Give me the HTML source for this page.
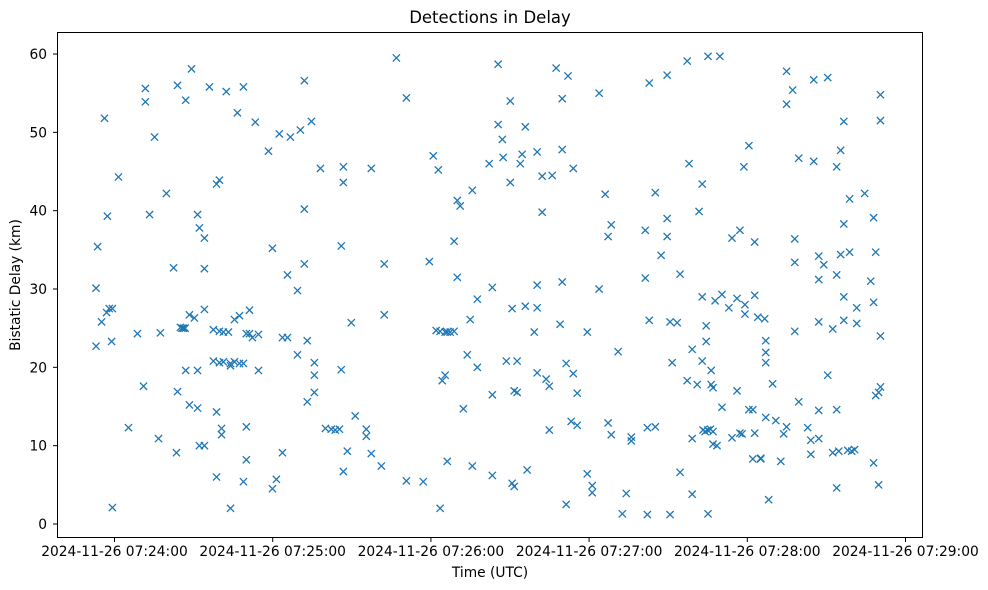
<!DOCTYPE html>
<html><head><meta charset="utf-8"><style>
body{margin:0;background:#fff;}
svg{display:block;font-family:"DejaVu Sans","Liberation Sans",sans-serif;}
</style></head><body>
<svg id="chart" width="988" height="590" viewBox="0 0 988 590" xmlns="http://www.w3.org/2000/svg">
<rect width="988" height="590" fill="#fff"/>
<text x="490" y="23" font-size="16.5" text-anchor="middle" fill="#000">Detections in Delay</text>
<g id="marks"></g>
<g id="axes"></g>
<rect x="57.5" y="32.5" width="865" height="505" fill="none" stroke="#000" stroke-width="1"/>
<text x="490" y="577" font-size="13.8" text-anchor="middle">Time (UTC)</text>
<text x="20" y="285" font-size="13.8" text-anchor="middle" transform="rotate(-90 20 285)">Bistatic Delay (km)</text>
</svg>
<script>
// seconds after 2024-11-26 07:24:00 UTC
const times = [-7,-7,-6.4,-4.9,-3.8,-3,-2.7,-2,-1.1,-0.8,-0.8,1.5,5.3,8.7,11,11.7,11.7,13.3,15.2,16.7,17.4,19.7,22.4,23.5,23.9,23.9,25,25.6,26.2,26.8,27,27,28.4,28.4,29.2,30.3,31.5,31.5,31.5,32.2,32.2,34.1,34.1,34.1,34.1,36,37.5,37.5,38.7,38.7,38.7,39.8,39.8,39.8,40.6,40.6,41.3,41.3,42.4,43.2,44,44,44,45.5,45.5,46.6,47.4,47.4,48.9,48.9,48.9,50,50,50,51.2,51.2,52.3,53.4,54.6,54.6,58.4,59.9,59.9,61.4,62.5,63.7,63.7,65.6,65.6,66.7,69.4,69.4,70.5,72,72,72,73.1,73.1,74.7,75.8,75.8,75.8,78.1,80,82.2,83.7,85.3,86,86,86.8,86.8,86.8,88.3,89.8,91.3,95.5,95.5,97.4,97.4,101.2,102.3,102.3,106.9,110.7,110.7,117.1,119.4,120.9,122,122.8,123.5,123.5,124.3,125.4,125.4,126.2,126.2,127.3,128.8,128.8,130,130,131.1,132.3,133.8,134.9,135.7,135.7,137.6,137.6,142.1,143.3,143.3,143.3,145.5,145.5,147.1,147.4,148.6,150.1,150.1,150.8,150.8,151.6,151.6,152.7,152.7,153.9,154.6,155.8,155.8,156.5,159.2,160.3,160.3,160.3,160.3,162.2,162.2,163.7,164.9,164.9,166,167.5,169,169.8,169.8,169.8,171.3,171.3,172,173.2,174,174,175.5,175.5,179.3,179.3,181.2,181.2,183.8,183.8,186.1,187.2,187.2,188.4,188.4,191,192.6,194.1,196,196,201.3,201.3,202.1,202.1,202.8,202.8,205.1,205.1,207.3,209.6,209.6,209.6,210.7,210.7,211.5,213.4,214.5,214.5,217.2,217.2,217.9,219.1,219.1,219.1,221,221.7,222.9,222.9,222.9,223.2,224,225,226,227,224.4,224.4,225.1,225.1,226.3,226.3,227,227,227.8,228.5,229.6,230.4,230.4,233,234.2,234.2,236.1,236.1,237.2,237.2,238,238.7,239.1,239.1,240.6,240.6,242.1,242.1,242.8,242.8,242.8,244,245.1,245.1,246.6,247,247,247,247,248.1,249.6,250.8,252.7,253.8,254.9,254.9,254.9,257.2,258,258,258,259.5,259.5,262.9,264.1,264.1,265.2,265.2,267.1,267.1,267.1,267.1,267.1,269,270.5,270.5,272.4,272.4,273.9,273.9,273.9,273.9,274.7,275.4,275.4,276.6,276.6,276.6,276.6,278.1,278.8,278.8,279.6,280.7,281.5,281.5,284.5,286.8,287.9,287.9,287.9,288.7,288.7,289.8,289.8,290.5,290.5,290.5,290.5];
const delays = [30.1,22.7,35.4,25.8,51.8,27.0,39.3,27.5,23.3,27.5,2.1,44.3,12.3,24.3,17.6,55.6,53.9,39.5,49.4,10.9,24.4,42.2,32.7,9.1,16.9,56.0,25.1,25.0,25.0,25.0,54.1,19.6,26.7,15.2,58.1,26.3,14.8,19.6,39.5,10.0,37.8,36.5,32.6,27.4,10.0,55.8,24.8,20.8,6.0,14.3,43.4,20.6,24.6,43.9,11.4,12.2,20.7,24.5,55.2,24.5,2.0,20.2,20.5,20.7,26.1,52.5,20.5,26.6,55.8,5.4,20.5,24.3,8.2,12.4,24.3,27.3,23.8,51.3,19.6,24.2,47.6,4.5,35.2,5.7,49.8,23.8,9.1,23.8,31.8,49.4,21.6,29.8,50.3,56.6,40.2,33.2,15.6,23.4,51.4,16.8,19.0,20.6,45.4,12.2,12.1,12.0,12.1,35.5,19.7,45.6,43.6,6.7,9.3,25.7,13.8,12.1,11.2,45.4,9.0,7.4,33.2,26.7,59.5,54.4,5.5,5.4,33.5,47.0,24.7,45.2,2.0,24.6,18.3,24.5,19.0,8.0,24.5,24.5,36.1,24.6,31.5,41.3,40.6,14.7,21.6,26.1,42.6,7.4,20.0,28.7,46.0,30.2,16.5,6.2,58.7,51.0,49.1,46.8,20.8,54.0,43.6,27.5,5.2,4.8,17.0,16.8,20.8,46.0,47.2,50.7,27.8,6.9,24.5,47.5,30.5,19.3,27.6,44.4,39.8,18.5,17.6,12.0,44.5,58.2,25.5,30.9,47.8,54.3,2.5,20.5,57.2,13.1,45.4,19.2,16.7,12.6,24.5,6.4,4.0,4.9,30.0,55.0,42.1,36.7,12.9,11.4,38.2,22.0,1.3,3.9,11.1,10.6,37.5,31.4,1.2,12.3,26.0,56.3,12.4,42.3,34.3,57.3,36.7,39.0,25.8,1.2,20.6,25.7,6.6,31.9,59.1,18.3,46.0,22.3,10.9,3.8,17.8,39.9,43.4,29.0,20.8,12.0,11.8,12.0,12.1,11.8,25.3,23.3,59.7,1.3,19.6,17.8,17.4,10.2,28.5,10.0,59.7,14.9,29.3,27.6,36.5,11.0,28.8,17.0,11.6,37.5,11.5,45.6,28.0,26.8,48.3,14.6,8.3,14.6,36.0,29.2,11.6,26.4,8.3,8.4,26.2,23.4,21.9,20.6,13.6,3.1,17.9,13.2,8.0,11.5,53.6,12.4,57.8,55.4,33.4,36.4,24.6,15.6,46.7,12.3,10.7,8.9,46.3,56.7,34.2,31.2,25.8,14.5,10.9,33.1,57.0,19.0,24.9,9.1,45.6,14.6,31.8,4.6,9.3,47.7,34.4,51.4,38.3,29.0,26.0,9.4,41.5,34.7,9.3,9.5,27.6,25.6,42.2,31.0,28.3,39.1,7.8,34.7,16.4,16.8,5.0,17.5,51.5,54.8,24.0];
const xTickSecs = [0,60,120,180,240,300];
const xTickLabels = ["2024-11-26 07:24:00","2024-11-26 07:25:00","2024-11-26 07:26:00","2024-11-26 07:27:00","2024-11-26 07:28:00","2024-11-26 07:29:00"];
const yTicks = [0,10,20,30,40,50,60];

const NS = "http://www.w3.org/2000/svg";
function xScale(s){ return 114.5 + s*158.2/60; }
function yScale(v){ return 524 - v*7.833; }
const marks = document.getElementById('marks');
const axes = document.getElementById('axes');
function mk(tag, attrs){ const e=document.createElementNS(NS,tag); for(const k in attrs) e.setAttribute(k,attrs[k]); return e; }

for(let i=0;i<times.length;i++){
  const cx=xScale(times[i]), cy=yScale(delays[i]), r=3.6;
  const p = mk('path',{d:`M${cx-r},${cy-r}L${cx+r},${cy+r}M${cx-r},${cy+r}L${cx+r},${cy-r}`,stroke:'#1f77b4','stroke-width':'1.3',fill:'none'});
  
  
  marks.appendChild(p);
}
xTickSecs.forEach((s,i)=>{
  const x=xScale(s);
  const t=mk('line',{x1:x,x2:x,y1:537.5,y2:542,stroke:'#000','stroke-width':'1'});
  
  
  axes.appendChild(t);
  const l=mk('text',{x:x,y:556,'font-size':'13.8','text-anchor':'middle'});
  l.textContent=xTickLabels[i];
  
  
  axes.appendChild(l);
});
yTicks.forEach(v=>{
  const y=yScale(v);
  const t=mk('line',{x1:53,x2:57.5,y1:y,y2:y,stroke:'#000','stroke-width':'1'});
  
  
  axes.appendChild(t);
  const l=mk('text',{x:47,y:y+5,'font-size':'13.8','text-anchor':'end'});
  l.textContent=String(v);
  
  
  axes.appendChild(l);
});
</script>
</body></html>
